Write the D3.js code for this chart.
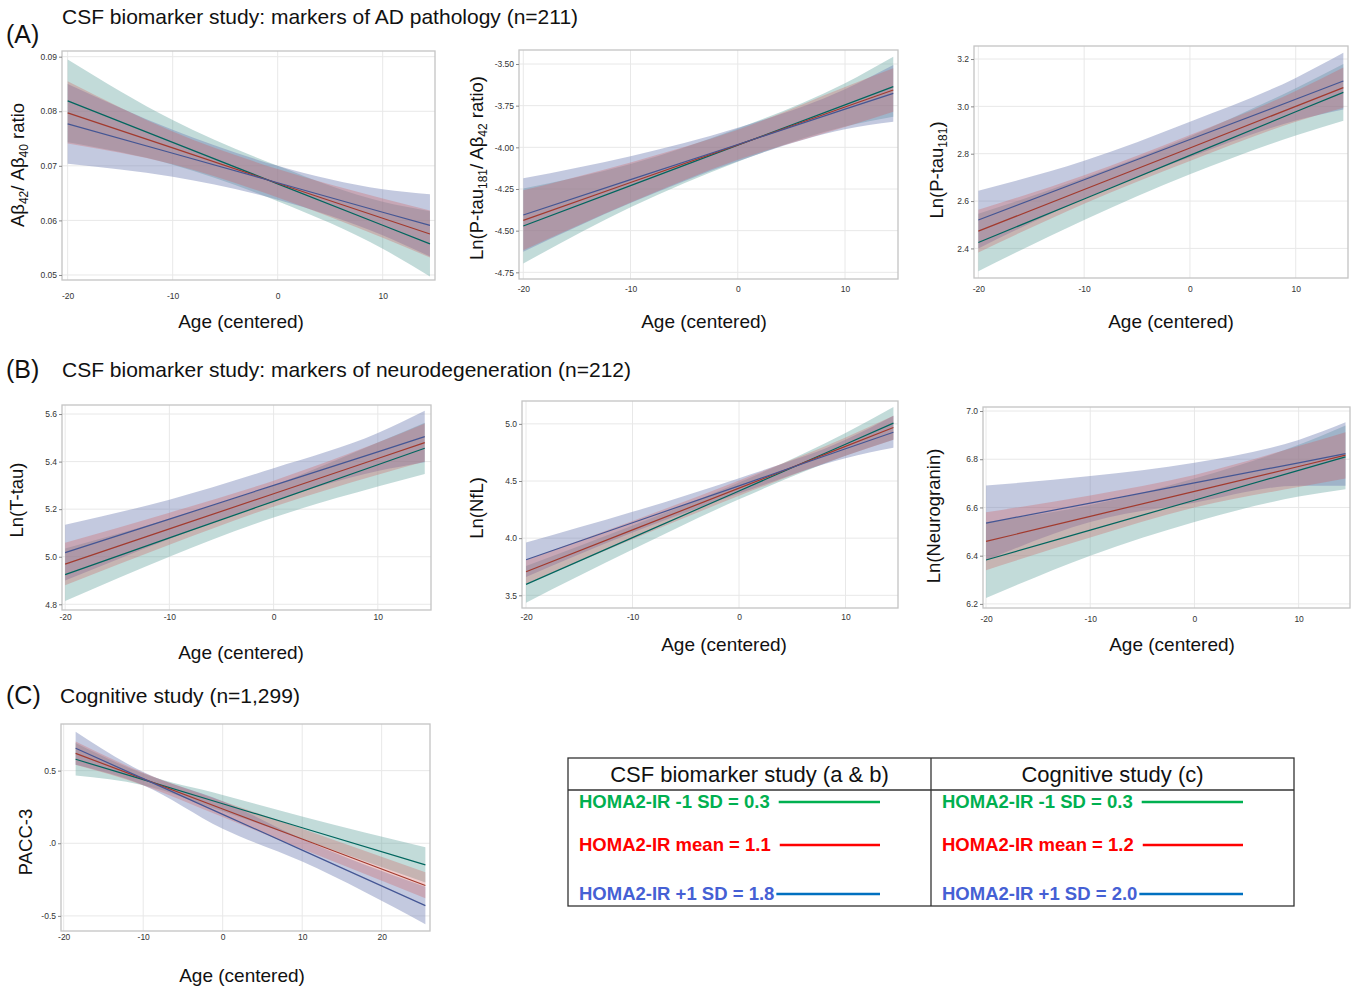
<!DOCTYPE html>
<html>
<head>
<meta charset="utf-8">
<script src="https://cdn.jsdelivr.net/npm/d3@7"></script>
<style>
  body { margin: 0; background: #fff; }
  svg { display: block; }
</style>
</head>
<body>
<div id="chart"></div>
<script>
// groups: -1 SD (green), mean (red), +1 SD (blue)
var groupNames = ["HOMA2-IR -1 SD", "HOMA2-IR mean", "HOMA2-IR +1 SD"];
var csfAges = [-20, -10, 0, 10, 14.5];
var cogAges = [-18.5, -10, 0, 10, 25.5];
var csfTicksX = [-20, -10, 0, 10];
var cogTicksX = [-20, -10, 0, 10, 20];

// (A) Abeta42/Abeta40 ratio
var abRatioFit = [[0.0819, 0.0743, 0.0667, 0.0591, 0.0557], [0.0797, 0.0733, 0.0668, 0.0604, 0.0575], [0.0777, 0.0723, 0.0669, 0.0615, 0.0591]];
var abRatioLower = [[0.0743, 0.0702, 0.0635, 0.0548, 0.0497], [0.0741, 0.0703, 0.0642, 0.0568, 0.0532], [0.0704, 0.0680, 0.0638, 0.0573, 0.0534]];
var abRatioUpper = [[0.0895, 0.0784, 0.0700, 0.0634, 0.0617], [0.0855, 0.0763, 0.0694, 0.0640, 0.0618], [0.0850, 0.0766, 0.0700, 0.0657, 0.0648]];
var abRatioTicks = [0.05, 0.06, 0.07, 0.08, 0.09];
var abRatioTickText = ["0.05", "0.06", "0.07", "0.08", "0.09"];

// (A) Ln(P-tau181 / Abeta42 ratio)
var ptauAbFit = [[-4.472, -4.230, -3.987, -3.745, -3.636], [-4.438, -4.211, -3.985, -3.758, -3.656], [-4.406, -4.194, -3.983, -3.771, -3.676]];
var ptauAbLower = [[-4.697, -4.36, -4.087, -3.875, -3.816], [-4.618, -4.331, -4.075, -3.878, -3.786], [-4.626, -4.334, -4.083, -3.891, -3.846]];
var ptauAbUpper = [[-4.247, -4.10, -3.887, -3.615, -3.456], [-4.258, -4.091, -3.895, -3.638, -3.526], [-4.186, -4.054, -3.883, -3.651, -3.506]];
var ptauAbTicks = [-4.75, -4.5, -4.25, -4, -3.75, -3.5];
var ptauAbTickText = ["-4.75", "-4.50", "-4.25", "-4.00", "-3.75", "-3.50"];

// (A) Ln(P-tau181)
var ptauFit = [[2.425, 2.609, 2.793, 2.977, 3.059], [2.473, 2.649, 2.824, 3.000, 3.079], [2.520, 2.690, 2.860, 3.030, 3.107]];
var ptauLower = [[2.304, 2.52, 2.713, 2.877, 2.939], [2.383, 2.589, 2.769, 2.935, 2.994], [2.40, 2.61, 2.785, 2.94, 2.987]];
var ptauUpper = [[2.546, 2.698, 2.873, 3.077, 3.179], [2.563, 2.709, 2.879, 3.065, 3.164], [2.644, 2.77, 2.935, 3.12, 3.226]];
var ptauTicks = [2.4, 2.6, 2.8, 3.0, 3.2];
var ptauTickText = ["2.4", "2.6", "2.8", "3.0", "3.2"];

// (B) Ln(T-tau)
var ttauFit = [[4.925, 5.079, 5.233, 5.387, 5.456], [4.969, 5.117, 5.265, 5.413, 5.48], [5.017, 5.158, 5.30, 5.441, 5.505]];
var ttauLower = [[4.814, 5.0, 5.165, 5.295, 5.348], [4.88, 5.05, 5.21, 5.345, 5.40], [4.90, 5.075, 5.235, 5.36, 5.397]];
var ttauUpper = [[5.035, 5.16, 5.30, 5.48, 5.563], [5.059, 5.185, 5.32, 5.48, 5.56], [5.134, 5.24, 5.372, 5.52, 5.614]];
var ttauTicks = [4.8, 5.0, 5.2, 5.4, 5.6];
var ttauTickText = ["4.8", "5.0", "5.2", "5.4", "5.6"];

// (B) Ln(NfL)
var nflFit = [[3.596, 4.005, 4.413, 4.822, 5.006], [3.706, 4.072, 4.438, 4.803, 4.968], [3.811, 4.135, 4.458, 4.782, 4.927]];
var nflLower = [[3.436, 3.90, 4.34, 4.72, 4.86], [3.60, 3.99, 4.37, 4.72, 4.86], [3.66, 4.05, 4.39, 4.70, 4.79]];
var nflUpper = [[3.756, 4.11, 4.486, 4.92, 5.148], [3.81, 4.15, 4.505, 4.88, 5.07], [3.962, 4.23, 4.525, 4.86, 5.07]];
var nflTicks = [3.5, 4.0, 4.5, 5.0];
var nflTickText = ["3.5", "4.0", "4.5", "5.0"];

// (B) Ln(Neurogranin)
var ngFit = [[6.382, 6.506, 6.630, 6.754, 6.81], [6.459, 6.563, 6.667, 6.77, 6.817], [6.535, 6.618, 6.702, 6.785, 6.823]];
var ngLower = [[6.224, 6.40, 6.54, 6.645, 6.676], [6.34, 6.475, 6.60, 6.685, 6.72], [6.38, 6.54, 6.62, 6.69, 6.69]];
var ngUpper = [[6.54, 6.61, 6.72, 6.86, 6.94], [6.58, 6.65, 6.735, 6.855, 6.912], [6.691, 6.73, 6.785, 6.88, 6.953]];
var ngTicks = [6.2, 6.4, 6.6, 6.8, 7.0];
var ngTickText = ["6.2", "6.4", "6.6", "6.8", "7.0"];

// (C) PACC-3
var paccFit = [[0.578, 0.438, 0.272, 0.107, -0.149], [0.619, 0.443, 0.236, 0.029, -0.291], [0.654, 0.445, 0.199, -0.047, -0.429]];
var paccLower = [[0.466, 0.40, 0.22, 0.03, -0.27], [0.54, 0.40, 0.18, -0.04, -0.378], [0.54, 0.40, 0.10, -0.126, -0.557]];
var paccUpper = [[0.69, 0.48, 0.333, 0.185, -0.028], [0.70, 0.485, 0.29, 0.10, -0.20], [0.768, 0.49, 0.29, 0.03, -0.30]];
var paccTicks = [-0.5, 0, 0.5];
var paccTickText = ["-0.5", ".0", "0.5"];

// legend table
var legendHeaders = ["CSF biomarker study (a & b)", "Cognitive study (c)"];
var csfHomaValues = ["0.3", "1.1", "1.8"];
var cogHomaValues = ["0.3", "1.2", "2.0"];

var sectionLabels = ["(A)", "(B)", "(C)"];
var sectionTitles = ["CSF biomarker study: markers of AD pathology (n=211)",
  "CSF biomarker study: markers of neurodegeneration (n=212)",
  "Cognitive study (n=1,299)"];

var bandFill = ["#66A5A0", "#D05B5B", "#6F7EB3"];
var bandOpacity = [0.4, 0.3, 0.42];
var lineColor = ["#01665E", "#A23A2E", "#445694"];
var legendTextColor = ["#00b050", "#ff0000", "#4560d4"];
var legendLineColor = ["#00b050", "#ff0000", "#0070c0"];
var font = "Arial, 'Liberation Sans', sans-serif";

var svg = d3.select("#chart")
    .append("svg")
    .attr("width", 1354)
    .attr("height", 987)
    .style("font-family", font);

//////////
// PANELS //
//////////

var panels = [
  { box: [62, 51, 435, 280], xDom: [-20.54, 14.98], yDom: [0.04908, 0.09104], ages: csfAges, xTicks: csfTicksX,
    fit: abRatioFit, lower: abRatioLower, upper: abRatioUpper, yTicks: abRatioTicks, yText: abRatioTickText,
    xGap: 17, yLab: [18, 165], xLab: [241, 321],
    yTitle: [["Aβ"], ["42", 1], ["/ Aβ"], ["40", 1], [" ratio"]] },
  { box: [519, 50, 898, 279], xDom: [-20.4, 14.94], yDom: [-4.79, -3.416], ages: csfAges, xTicks: csfTicksX,
    fit: ptauAbFit, lower: ptauAbLower, upper: ptauAbUpper, yTicks: ptauAbTicks, yText: ptauAbTickText,
    xGap: 11, yLab: [477, 168], xLab: [704, 321],
    yTitle: [["Ln(P-tau"], ["181", 1], ["/ Aβ"], ["42", 1], [" ratio)"]] },
  { box: [974, 46, 1348, 278], xDom: [-20.41, 14.94], yDom: [2.275, 3.255], ages: csfAges, xTicks: csfTicksX,
    fit: ptauFit, lower: ptauLower, upper: ptauUpper, yTicks: ptauTicks, yText: ptauTickText,
    xGap: 12, yLab: [937, 170], xLab: [1171, 321],
    yTitle: [["Ln(P-tau"], ["181", 1], [")"]] },
  { box: [62, 405, 431, 610], xDom: [-20.3, 15.1], yDom: [4.776, 5.638], ages: csfAges, xTicks: csfTicksX,
    fit: ttauFit, lower: ttauLower, upper: ttauUpper, yTicks: ttauTicks, yText: ttauTickText,
    xGap: 8, yLab: [17, 500], xLab: [241, 652],
    yTitle: [["Ln(T-tau)"]] },
  { box: [522, 401, 898, 608], xDom: [-20.38, 14.93], yDom: [3.389, 5.2], ages: csfAges, xTicks: csfTicksX,
    fit: nflFit, lower: nflLower, upper: nflUpper, yTicks: nflTicks, yText: nflTickText,
    xGap: 10, yLab: [477, 508], xLab: [724, 644],
    yTitle: [["Ln(NfL)"]] },
  { box: [983, 407, 1350, 608], xDom: [-20.29, 14.93], yDom: [6.183, 7.0166], ages: csfAges, xTicks: csfTicksX,
    fit: ngFit, lower: ngLower, upper: ngUpper, yTicks: ngTicks, yText: ngTickText,
    xGap: 12, yLab: [934, 516], xLab: [1172, 644],
    yTitle: [["Ln(Neurogranin)"]] },
  { box: [61, 724, 430, 931], xDom: [-20.34, 26.08], yDom: [-0.604, 0.821], ages: cogAges, xTicks: cogTicksX,
    fit: paccFit, lower: paccLower, upper: paccUpper, yTicks: paccTicks, yText: paccTickText,
    xGap: 7, yLab: [26, 842], xLab: [242, 975],
    yTitle: [["PACC-3"]] }
];

// draw order of the bands: green, blue, red on top
var bandOrder = [0, 2, 1];

panels.forEach(function (p) {
    var g = svg.append("g");
    var x = d3.scaleLinear().domain(p.xDom).range([p.box[0], p.box[2]]);
    var y = d3.scaleLinear().domain(p.yDom).range([p.box[3], p.box[1]]);

    // grid
    g.selectAll("gridx").data(p.xTicks).enter().append("line")
        .attr("x1", function (d) { return x(d); }).attr("x2", function (d) { return x(d); })
        .attr("y1", p.box[1]).attr("y2", p.box[3])
        .attr("stroke", "#e8e8e8").attr("stroke-width", 1);
    g.selectAll("gridy").data(p.yTicks).enter().append("line")
        .attr("y1", function (d) { return y(d); }).attr("y2", function (d) { return y(d); })
        .attr("x1", p.box[0]).attr("x2", p.box[2])
        .attr("stroke", "#e8e8e8").attr("stroke-width", 1);

    // confidence bands
    var area = d3.area()
        .x(function (d, i) { return x(p.ages[i]); })
        .y0(function (d) { return y(d[0]); })
        .y1(function (d) { return y(d[1]); })
        .curve(d3.curveMonotoneX);
    bandOrder.forEach(function (k) {
        g.append("path")
            .datum(d3.zip(p.lower[k], p.upper[k]))
            .attr("d", area)
            .attr("fill", bandFill[k])
            .attr("fill-opacity", bandOpacity[k]);
    });

    // fitted lines
    var line = d3.line()
        .x(function (d, i) { return x(p.ages[i]); })
        .y(function (d) { return y(d); });
    [0, 1, 2].forEach(function (k) {
        g.append("path")
            .datum(p.fit[k])
            .attr("d", line)
            .attr("fill", "none")
            .attr("stroke", lineColor[k])
            .attr("stroke-width", 1.2);
    });

    // frame
    g.append("rect")
        .attr("x", p.box[0]).attr("y", p.box[1])
        .attr("width", p.box[2] - p.box[0]).attr("height", p.box[3] - p.box[1])
        .attr("fill", "none").attr("stroke", "#c4c4c4").attr("stroke-width", 1.3);

    // axes
    var yAxis = g.append("g")
        .attr("transform", "translate(" + p.box[0] + ",0)")
        .call(d3.axisLeft(y).tickValues(p.yTicks)
            .tickFormat(function (d, i) { return p.yText[i]; })
            .tickSize(3).tickPadding(2).tickSizeOuter(0));
    var xAxis = g.append("g")
        .attr("transform", "translate(0," + p.box[3] + ")")
        .call(d3.axisBottom(x).tickValues(p.xTicks)
            .tickFormat(function (d) { return String(d); })
            .tickSize(0).tickPadding(p.xGap - 4).tickSizeOuter(0));
    [yAxis, xAxis].forEach(function (a) {
        a.select(".domain").remove();
        a.selectAll(".tick line").attr("stroke", "#888");
        a.selectAll("text").attr("fill", "#333").style("font-size", "8.5px").style("font-family", font);
    });

    // axis titles
    g.append("text")
        .attr("x", p.xLab[0]).attr("y", p.xLab[1])
        .attr("dy", "0.35em")
        .attr("text-anchor", "middle")
        .style("font-size", "19px")
        .attr("fill", "#111")
        .text("Age (centered)");

    var yt = g.append("text")
        .attr("transform", "translate(" + p.yLab[0] + "," + p.yLab[1] + ") rotate(-90)")
        .attr("dy", "0.35em")
        .attr("text-anchor", "middle")
        .style("font-size", "18.5px")
        .attr("fill", "#111");
    var shifted = false;
    p.yTitle.forEach(function (s) {
        var t = yt.append("tspan").text(s[0]);
        if (s[1]) {
            t.style("font-size", "12px").attr("dy", shifted ? 0 : 4);
            shifted = true;
        } else if (shifted) {
            t.attr("dy", -4);
            shifted = false;
        }
    });
});

//////////
// SECTION TITLES //
//////////

var sectionY = [[43, 24], [378, 377], [704, 703]];
var titleX = [62, 62, 60];
sectionLabels.forEach(function (s, i) {
    svg.append("text")
        .attr("x", 6).attr("y", sectionY[i][0])
        .style("font-size", "25px").attr("fill", "#111")
        .text(s);
    svg.append("text")
        .attr("x", titleX[i]).attr("y", sectionY[i][1])
        .style("font-size", "21px").attr("fill", "#111")
        .text(sectionTitles[i]);
});

//////////
// LEGEND TABLE //
//////////

var tbl = { x0: 568, x1: 1294, y0: 758, y1: 906, mid: 931, head: 790 };
var leg = svg.append("g");
leg.append("rect")
    .attr("x", tbl.x0).attr("y", tbl.y0)
    .attr("width", tbl.x1 - tbl.x0).attr("height", tbl.y1 - tbl.y0)
    .attr("fill", "none").attr("stroke", "#333").attr("stroke-width", 1.3);
leg.append("line")
    .attr("x1", tbl.mid).attr("x2", tbl.mid).attr("y1", tbl.y0).attr("y2", tbl.y1)
    .attr("stroke", "#333").attr("stroke-width", 1.3);
leg.append("line")
    .attr("x1", tbl.x0).attr("x2", tbl.x1).attr("y1", tbl.head).attr("y2", tbl.head)
    .attr("stroke", "#333").attr("stroke-width", 1.3);

var headX = [(tbl.x0 + tbl.mid) / 2, (tbl.mid + tbl.x1) / 2];
legendHeaders.forEach(function (h, i) {
    leg.append("text")
        .attr("x", headX[i]).attr("y", 774)
        .attr("dy", "0.35em")
        .attr("text-anchor", "middle")
        .style("font-size", "22px").attr("fill", "#111")
        .text(h);
});

var rowY = [802, 845, 894];
var cols = [{ x: 579, lineEnd: 880, vals: csfHomaValues }, { x: 942, lineEnd: 1243, vals: cogHomaValues }];
cols.forEach(function (c) {
    groupNames.forEach(function (nm, k) {
        var t = leg.append("text")
            .attr("x", c.x).attr("y", rowY[k])
            .attr("dy", "0.35em")
            .style("font-size", "18.5px").style("font-weight", "bold")
            .attr("fill", legendTextColor[k])
            .text(nm + " = " + c.vals[k]);
        var w = t.node().getComputedTextLength();
        leg.append("line")
            .attr("x1", c.x + w + (k == 2 ? 2 : 9)).attr("x2", c.lineEnd)
            .attr("y1", rowY[k]).attr("y2", rowY[k])
            .attr("stroke", legendLineColor[k]).attr("stroke-width", 2.5);
    });
});
</script>
</body>
</html>
